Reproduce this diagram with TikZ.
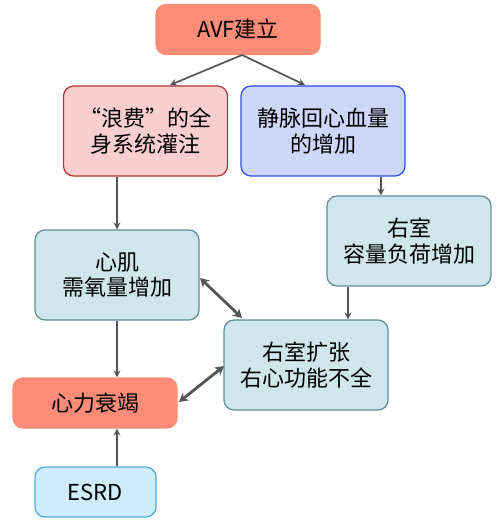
\documentclass[tikz,border=0pt]{standalone}
\usepackage{fontspec}
\setmainfont{Noto Sans CJK SC}
\definecolor{salmon}{RGB}{252,140,120}
\definecolor{pinkfill}{RGB}{248,206,206}
\definecolor{darkred}{RGB}{180,50,50}
\definecolor{lavfill}{RGB}{205,215,250}
\definecolor{deepblue}{RGB}{45,75,230}
\definecolor{tealfill}{RGB}{206,230,236}
\definecolor{tealline}{RGB}{95,140,150}
\definecolor{skyfill}{RGB}{206,236,252}
\definecolor{skyline}{RGB}{70,170,230}
\definecolor{arrowgray}{RGB}{85,85,85}
\usepackage{tikz}
\usetikzlibrary{positioning,arrows.meta}

\begin{document}
\begin{tikzpicture}[x=1pt,y=-1pt,
  box/.style={rounded corners=10pt,minimum width=164pt,minimum height=90pt,
    align=center,line width=1.2pt,font=\fontsize{22}{25.5}\selectfont},
  red/.style={box,fill=salmon,draw=salmon,minimum height=50pt},
  pk/.style={box,fill=pinkfill,draw=darkred},
  lav/.style={box,fill=lavfill,draw=deepblue},
  tl/.style={box,fill=tealfill,draw=tealline},
  sky/.style={box,fill=skyfill,draw=skyline,minimum width=121pt,minimum height=50pt},
  ar/.style={arrowgray,line width=1.7pt,-{Stealth[length=7pt,width=7pt]}},
  dar/.style={arrowgray,line width=2.8pt,{Stealth[length=9pt,width=10pt]}-{Stealth[length=9pt,width=10pt]}}]
  \useasboundingbox (0,0) rectangle (502,524);
  % top
  \node[red] (avf) at (238,29.5) {AVF建立};
  \node[pk]  (waste) at (145.5,131) {“浪费”的全\\身系统灌注};
  \node[lav] (venous) at (323,131) {静脉回心血量\\的增加};
  % middle
  \node[tl] (rvload) at (409,241) {右室\\容量负荷增加};
  \node[tl] (myo) at (117,275) {心肌\\需氧量增加};
  \node[tl] (rvdil) at (306,365) {右室扩张\\右心功能不全};
  % bottom
  \node[red] (hf) at (95,403) {心力衰竭};
  \node[sky] (esrd) at (95.5,492) {ESRD};
  % connectors
  \coordinate (avfb) at (242,55);
  \draw[ar] (avfb) -- (170,85);
  \draw[ar] (avfb) -- (305,85);
  \draw[ar] (waste.south -| myo) -- (myo.north);
  \draw[ar] (venous.south -| 381,0) -- (rvload.north -| 381,0);
  \draw[ar] (rvload.south -| 348,0) -- (rvdil.north -| 348,0);
  \draw[ar] (myo.south) -- (hf.north -| myo);
  \draw[ar] (esrd.north -| myo) -- (hf.south -| myo);
  \draw[dar] (200,278) -- (242,318);
  \draw[dar] (179,402) -- (224,366);
\end{tikzpicture}
\end{document}
